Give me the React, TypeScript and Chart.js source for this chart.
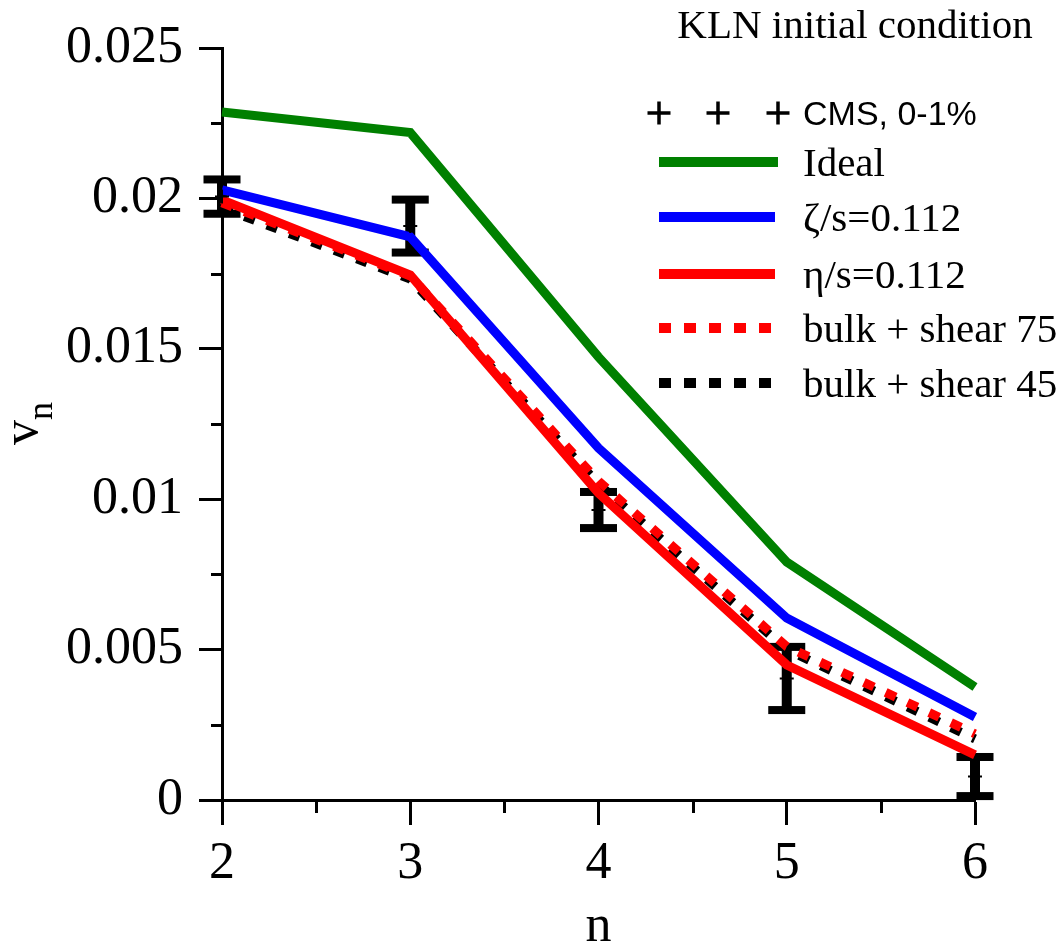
import React, { useEffect, useRef } from "react";
import { Chart, registerables } from "chart.js";

Chart.register(...registerables);

// ---- data ----
const harmonics = [2, 3, 4, 5, 6];
const idealValues = [0.02287, 0.02219, 0.01473, 0.00791, 0.00376];
const bulkValues = [0.02028, 0.01872, 0.0117, 0.00605, 0.00276];
const shearValues = [0.01995, 0.01745, 0.0102, 0.00449, 0.0015];
const bulkShear75Values = [0.01985, 0.01742, 0.0106, 0.0051, 0.0022];
const bulkShear45Values = [0.01968, 0.01732, 0.0105, 0.0050, 0.00203];
const cmsValues = [0.02006, 0.01908, 0.00964, 0.00404, 0.00078];
const cmsErrors = [0.00057, 0.00088, 0.0006, 0.00105, 0.00065];
const yTickValues = [0, 0.005, 0.01, 0.015, 0.02, 0.025];
const yMinorTicks = [0.0025, 0.0075, 0.0125, 0.0175, 0.0225];
const xMinorTicks = [2.5, 3.5, 4.5, 5.5];

const SERIF = "'Liberation Serif', 'Times New Roman', serif";
const SANS = "'Liberation Sans', Arial, sans-serif";

const toXY = (vals: number[]) => harmonics.map((n, i) => ({ x: n, y: vals[i] }));

const legendItems = [
  { label: "Ideal", color: "#008000", dash: [] as number[] },
  { label: "\u03B6/s=0.112", color: "#0000ff", dash: [] as number[] },
  { label: "\u03B7/s=0.112", color: "#ff0000", dash: [] as number[] },
  { label: "bulk + shear 75", color: "#ff0000", dash: [12, 13] },
  { label: "bulk + shear 45", color: "#000000", dash: [12, 13] },
];

const decorPlugin = {
  id: "decor",
  beforeDatasetsDraw(chart: any) {
    const ctx = chart.ctx;
    const xs = chart.scales.x;
    const ys = chart.scales.y;
    ctx.save();
    ctx.fillStyle = "#000";
    cmsValues.forEach((v, i) => {
      const px = xs.getPixelForValue(harmonics[i]);
      const top = ys.getPixelForValue(v + cmsErrors[i]);
      const bot = ys.getPixelForValue(v - cmsErrors[i]);
      ctx.fillRect(px - 5, top, 10, bot - top);
      ctx.fillRect(px - 18.5, top - 4, 37, 8);
      ctx.fillRect(px - 18.5, bot - 4, 37, 8);
    });
    ctx.restore();
  },
  afterDraw(chart: any) {
    const ctx = chart.ctx;
    const xs = chart.scales.x;
    const ys = chart.scales.y;
    const area = chart.chartArea;
    ctx.save();
    // minor ticks
    ctx.strokeStyle = "#000";
    ctx.lineWidth = 3;
    yMinorTicks.forEach((v) => {
      const py = Math.round(ys.getPixelForValue(v)) + 0.5;
      ctx.beginPath();
      ctx.moveTo(area.left - 11, py);
      ctx.lineTo(area.left, py);
      ctx.stroke();
    });
    xMinorTicks.forEach((v) => {
      const px = Math.round(xs.getPixelForValue(v)) + 0.5;
      ctx.beginPath();
      ctx.moveTo(px, area.bottom);
      ctx.lineTo(px, area.bottom + 13);
      ctx.stroke();
    });

    // axis titles
    ctx.fillStyle = "#000";
    ctx.textAlign = "center";
    ctx.textBaseline = "alphabetic";
    ctx.font = `52px ${SERIF}`;
    ctx.fillText("n", (area.left + area.right) / 2, 941);

    ctx.save();
    ctx.translate(37, 445);
    ctx.rotate(-Math.PI / 2);
    ctx.textAlign = "left";
    ctx.font = `50px ${SERIF}`;
    ctx.fillText("v", 0, 0);
    const vw = ctx.measureText("v").width;
    ctx.font = `36px ${SERIF}`;
    ctx.fillText("n", vw, 15);
    ctx.restore();

    // title
    ctx.textAlign = "center";
    ctx.font = `41px ${SERIF}`;
    ctx.fillText("KLN initial condition", 855, 38);

    // legend
    const lx0 = 659;
    const lx1 = 775;
    const tx = 803;
    // CMS row
    const cy = 113;
    ctx.lineWidth = 3.5;
    [659, 718, 778].forEach((cx) => {
      ctx.beginPath();
      ctx.moveTo(cx - 11.5, cy);
      ctx.lineTo(cx + 11.5, cy);
      ctx.moveTo(cx, cy - 11.5);
      ctx.lineTo(cx, cy + 11.5);
      ctx.stroke();
    });
    ctx.textAlign = "left";
    ctx.font = `34px ${SANS}`;
    ctx.fillText("CMS, 0-1%", tx, cy + 12);

    const rows = [162, 217, 274, 328, 383];
    legendItems.forEach((it, i) => {
      const y = rows[i];
      ctx.strokeStyle = it.color;
      ctx.lineWidth = 10;
      ctx.setLineDash(it.dash);
      ctx.beginPath();
      ctx.moveTo(lx0, y);
      ctx.lineTo(i === 0 ? 778 : lx1, y);
      ctx.stroke();
      ctx.setLineDash([]);
      ctx.fillStyle = "#000";
      ctx.font = `41px ${SERIF}`;
      ctx.fillText(it.label, tx, y + 14);
    });
    ctx.restore();
  },
};

export default function App() {
  const ref = useRef<HTMLCanvasElement | null>(null);
  useEffect(() => {
    document.body.style.margin = "0";
    const canvas = ref.current;
    if (!canvas) return;
    const lineDs = (label: string, vals: number[], color: string, dash: number[] = []) => ({
      label,
      data: toXY(vals),
      borderColor: color,
      backgroundColor: color,
      borderWidth: 9,
      borderDash: dash,
      pointRadius: 0,
      fill: false,
      tension: 0,
      clip: false as any,
      showLine: true,
    });
    const chart = new Chart(canvas, {
      type: "scatter",
      data: {
        datasets: [
          {
            label: "CMS, 0-1%",
            data: toXY(cmsValues),
            pointStyle: "cross",
            pointRadius: 7,
            borderColor: "#000",
            backgroundColor: "#000",
            borderWidth: 2,
            showLine: false,
            clip: false as any,
          } as any,
          lineDs("Ideal", idealValues, "#008000"),
          lineDs("\u03B6/s=0.112", bulkValues, "#0000ff"),
          lineDs("\u03B7/s=0.112", shearValues, "#ff0000"),
          lineDs("bulk + shear 75", bulkShear75Values, "#ff0000", [11, 13]),
          lineDs("bulk + shear 45", bulkShear45Values, "#000000", [11, 13]),
        ],
      },
      options: {
        responsive: false,
        animation: false,
        layout: { padding: { left: 0, top: 48, right: 87, bottom: 0 } },
        plugins: { legend: { display: false }, tooltip: { enabled: false }, title: { display: false } },
        scales: {
          x: {
            type: "linear",
            min: 2,
            max: 6,
            ticks: {
              stepSize: 1,
              autoSkip: false,
              maxRotation: 0,
              color: "#000",
              padding: 8,
              font: { family: SERIF, size: 52 },
            },
            grid: {
              drawOnChartArea: false,
              drawTicks: true,
              tickLength: 25,
              tickWidth: 3,
              tickColor: "#000",
            },
            border: { display: true, color: "#000", width: 3 },
            afterFit: (s: any) => {
              s.height = 144;
            },
          },
          y: {
            type: "linear",
            min: 0,
            max: 0.025,
            afterBuildTicks: (s: any) => {
              s.ticks = yTickValues.map((v) => ({ value: v }));
            },
            ticks: {
              autoSkip: false,
              color: "#000",
              padding: 16,
              font: { family: SERIF, size: 52 },
              callback: (v: any) => String(parseFloat(Number(v).toFixed(4))),
            },
            grid: {
              drawOnChartArea: false,
              drawTicks: true,
              tickLength: 23,
              tickWidth: 3,
              tickColor: "#000",
            },
            border: { display: true, color: "#000", width: 3 },
            afterFit: (s: any) => {
              s.width = 222;
            },
          },
        },
      } as any,
      plugins: [decorPlugin],
    });
    return () => chart.destroy();
  }, []);
  return <canvas ref={ref} width={1062} height={944} style={{ display: "block", width: 1062, height: 944 }} />;
}
